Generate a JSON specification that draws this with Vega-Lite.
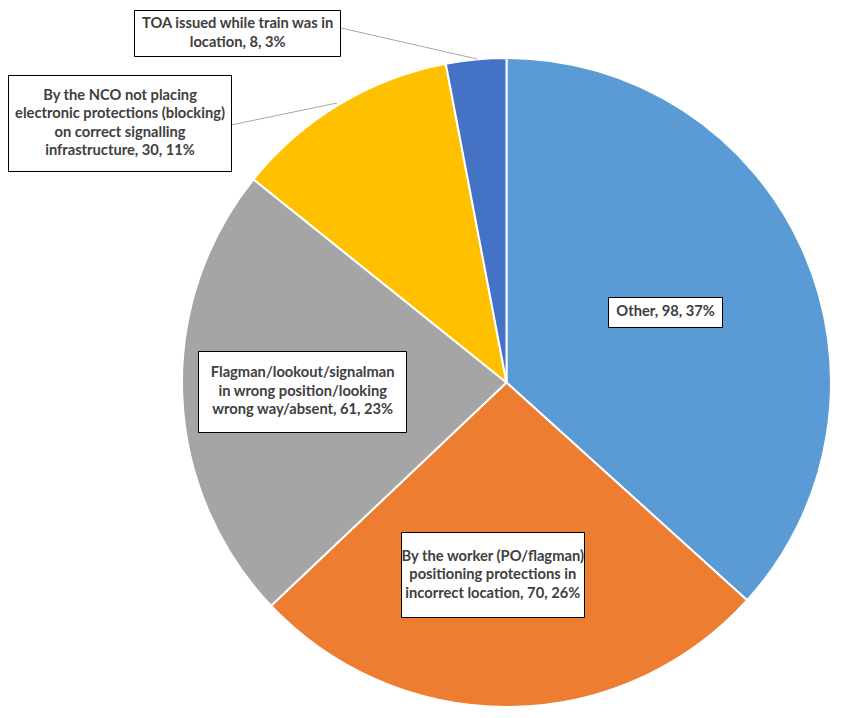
{
  "$schema": "https://vega.github.io/schema/vega-lite/v6.json",
  "width": 649,
  "height": 649,
  "autosize": "none",
  "padding": {"left": 182, "top": 58, "right": 25, "bottom": 11},
  "background": "white",
  "data": {
    "values": [
      {"cause": "Other", "count": 98, "label": "Other, 98, 37%"},
      {"cause": "By the worker (PO/flagman) positioning protections in incorrect location", "count": 70, "label": "By the worker (PO/flagman)\npositioning protections in\nincorrect location, 70, 26%"},
      {"cause": "Flagman/lookout/signalman in wrong position/looking wrong way/absent", "count": 61, "label": "Flagman/lookout/signalman\nin wrong position/looking\nwrong way/absent, 61, 23%"},
      {"cause": "By the NCO not placing electronic protections (blocking) on correct signalling infrastructure", "count": 30, "label": "By the NCO not placing\nelectronic protections (blocking)\non correct signalling\ninfrastructure, 30, 11%"},
      {"cause": "TOA issued while train was in location", "count": 8, "label": "TOA issued while train was in\nlocation, 8, 3%"}
    ]
  },
  "layer": [
    {
      "mark": {"type": "arc", "stroke": "white", "strokeWidth": 2},
      "encoding": {
        "theta": {"field": "count", "type": "quantitative", "stack": true},
        "order": {"field": "count", "type": "quantitative", "sort": "descending"},
        "color": {
          "field": "cause",
          "type": "nominal",
          "legend": null,
          "scale": {
            "domain": [
              "Other",
              "By the worker (PO/flagman) positioning protections in incorrect location",
              "Flagman/lookout/signalman in wrong position/looking wrong way/absent",
              "By the NCO not placing electronic protections (blocking) on correct signalling infrastructure",
              "TOA issued while train was in location"
            ],
            "range": ["#5B9BD5", "#ED7D31", "#A5A5A5", "#FFC000", "#4472C4"]
          }
        }
      }
    },
    {
      "transform": [{"filter": "datum.cause === 'TOA issued while train was in location'"}],
      "mark": {
        "type": "point",
        "shape": "M-165.5,-354.5L-29.5,-323.5M-275.5,-257.5L-169.5,-279.5",
        "size": 4,
        "filled": false,
        "stroke": "#A6A6A6",
        "strokeWidth": 1,
        "opacity": 1
      },
      "encoding": {}
    },
    {
      "mark": {"type": "point", "size": 4, "filled": true, "fill": "white", "stroke": "black", "strokeWidth": 1, "opacity": 1},
      "encoding": {
        "shape": {
          "field": "cause",
          "type": "nominal",
          "legend": null,
          "scale": {
            "domain": [
              "Other",
              "By the worker (PO/flagman) positioning protections in incorrect location",
              "Flagman/lookout/signalman in wrong position/looking wrong way/absent",
              "By the NCO not placing electronic protections (blocking) on correct signalling infrastructure",
              "TOA issued while train was in location"
            ],
            "range": [
              "M102,-85H216V-55H102Z",
              "M-105,150H78V235H-105Z",
              "M-308,-31H-100V50H-308Z",
              "M-498,-307H-275V-211H-498Z",
              "M-372,-372H-166V-326H-372Z"
            ]
          }
        }
      }
    },
    {
      "mark": {"type": "text", "radius": 174, "font": "Lato", "fontWeight": "bold", "fontSize": 14.7, "fill": "#404040", "lineBreak": "\n", "lineHeight": 18.5, "align": "center", "baseline": "middle"},
      "encoding": {
        "theta": {"field": "count", "type": "quantitative", "stack": true},
        "order": {"field": "count", "type": "quantitative", "sort": "descending"},
        "text": {"condition": {"test": "datum.cause === 'Other'", "field": "label"}, "value": ""}
      }
    },
    {
      "mark": {"type": "text", "radius": 193, "dx": -16, "dy": -18.5, "font": "Lato", "fontWeight": "bold", "fontSize": 14.7, "fill": "#404040", "lineBreak": "\n", "lineHeight": 18.5, "align": "center", "baseline": "middle"},
      "encoding": {
        "theta": {"field": "count", "type": "quantitative", "stack": true},
        "order": {"field": "count", "type": "quantitative", "sort": "descending"},
        "text": {"condition": {"test": "datum.cause === 'By the worker (PO/flagman) positioning protections in incorrect location'", "field": "label"}, "value": ""}
      }
    },
    {
      "mark": {"type": "text", "radius": 204, "dy": -17.5, "font": "Lato", "fontWeight": "bold", "fontSize": 14.7, "fill": "#404040", "lineBreak": "\n", "lineHeight": 18.5, "align": "center", "baseline": "middle"},
      "encoding": {
        "theta": {"field": "count", "type": "quantitative", "stack": true},
        "order": {"field": "count", "type": "quantitative", "sort": "descending"},
        "text": {"condition": {"test": "datum.cause === 'Flagman/lookout/signalman in wrong position/looking wrong way/absent'", "field": "label"}, "value": ""}
      }
    },
    {
      "mark": {"type": "text", "radius": 360, "dx": -201, "dy": 22, "font": "Lato", "fontWeight": "bold", "fontSize": 14.7, "fill": "#404040", "lineBreak": "\n", "lineHeight": 18.5, "align": "center", "baseline": "middle"},
      "encoding": {
        "theta": {"field": "count", "type": "quantitative", "stack": true},
        "order": {"field": "count", "type": "quantitative", "sort": "descending"},
        "text": {"condition": {"test": "datum.cause === 'By the NCO not placing electronic protections (blocking) on correct signalling infrastructure'", "field": "label"}, "value": ""}
      }
    },
    {
      "mark": {"type": "text", "radius": 360, "dx": -235, "dy": 0, "font": "Lato", "fontWeight": "bold", "fontSize": 14.7, "fill": "#404040", "lineBreak": "\n", "lineHeight": 18.5, "align": "center", "baseline": "middle"},
      "encoding": {
        "theta": {"field": "count", "type": "quantitative", "stack": true},
        "order": {"field": "count", "type": "quantitative", "sort": "descending"},
        "text": {"condition": {"test": "datum.cause === 'TOA issued while train was in location'", "field": "label"}, "value": ""}
      }
    }
  ]
}
